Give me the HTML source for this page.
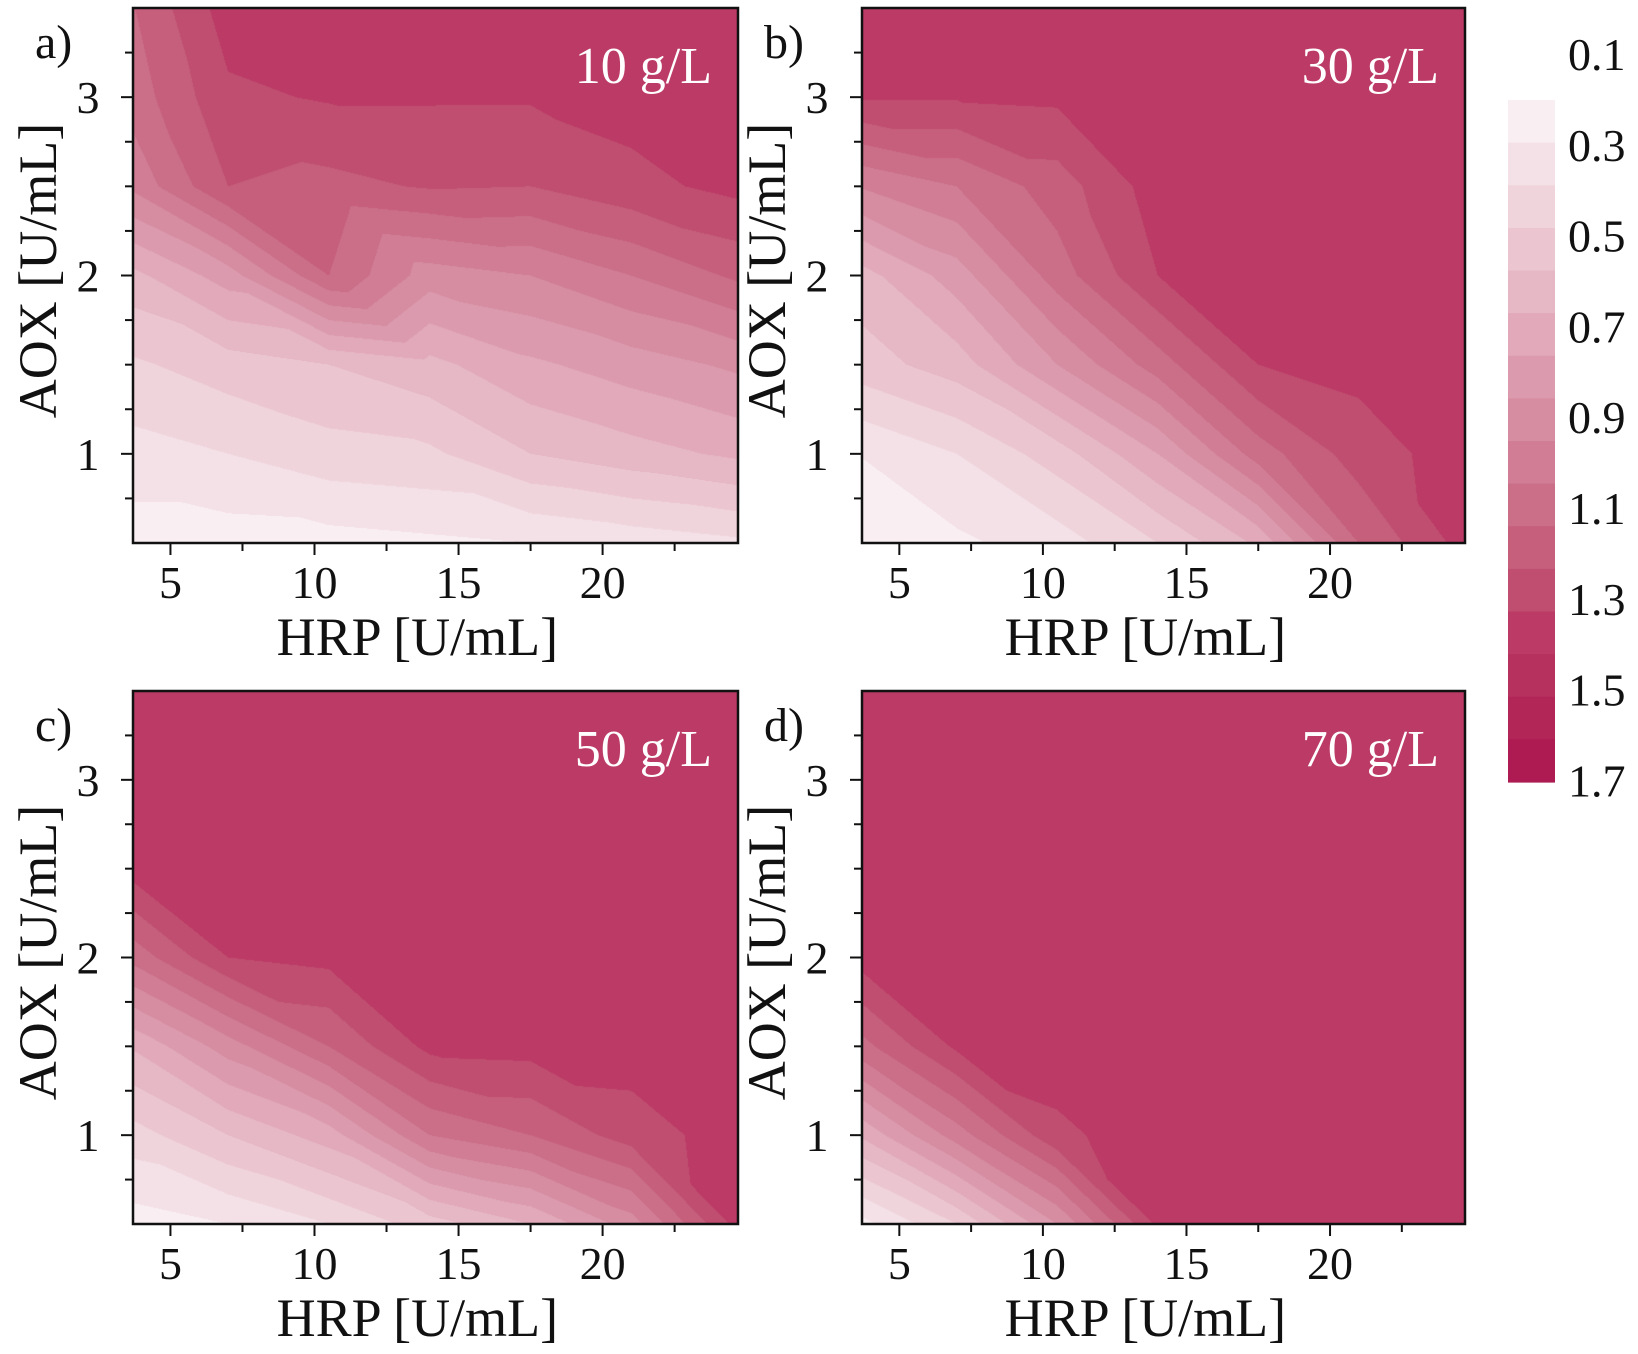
<!DOCTYPE html>
<html><head><meta charset="utf-8">
<style>
body{margin:0;background:#fff;width:1638px;height:1354px;overflow:hidden;position:relative;font-family:"Liberation Serif",serif;}
canvas{position:absolute;}
svg{position:absolute;left:0;top:0;}
svg text{font-family:"Liberation Serif","Times New Roman",serif;}
</style></head>
<body>
<canvas id="ca"></canvas>
<canvas id="cb"></canvas>
<canvas id="cc"></canvas>
<canvas id="cd"></canvas>
<svg id="ov" width="1638" height="1354"></svg>
<script>
// grid (data)
const hrpGrid = [3.5, 7, 10.5, 14, 17.5, 21, 24.7];
const aoxGrid = [0.5, 1.0, 1.5, 2.0, 2.5, 3.0, 3.5];
// values z[row=aox][col=hrp]
const zA = [
  [0.15,0.15,0.16,0.18,0.20,0.24,0.28],
  [0.26,0.30,0.36,0.38,0.50,0.56,0.62],
  [0.38,0.45,0.50,0.57,0.68,0.75,0.82],
  [0.56,0.75,1.10,0.85,0.90,1.00,1.12],
  [0.91,1.20,1.17,1.21,1.20,1.27,1.33],
  [1.03,1.28,1.31,1.31,1.31,1.34,1.36],
  [1.08,1.35,1.36,1.38,1.38,1.38,1.38]
];
const zB = [
  [0.12,0.18,0.25,0.40,0.62,1.10,1.34],
  [0.20,0.30,0.45,0.70,1.05,1.25,1.35],
  [0.45,0.55,0.80,1.05,1.30,1.33,1.35],
  [0.55,0.75,1.05,1.30,1.35,1.35,1.35],
  [0.90,1.00,1.15,1.35,1.35,1.35,1.35],
  [1.31,1.31,1.32,1.35,1.35,1.35,1.35],
  [1.35,1.35,1.35,1.35,1.35,1.35,1.35]
];
const zC = [
  [0.15,0.20,0.30,0.45,0.60,0.85,1.34],
  [0.35,0.50,0.65,1.00,1.10,1.25,1.35],
  [0.60,0.85,1.10,1.33,1.34,1.35,1.35],
  [1.02,1.30,1.33,1.35,1.35,1.35,1.35],
  [1.33,1.35,1.35,1.35,1.35,1.35,1.35],
  [1.35,1.35,1.35,1.35,1.35,1.35,1.35],
  [1.35,1.35,1.35,1.35,1.35,1.35,1.35]
];
const zD = [
  [0.15,0.40,0.80,1.32,1.35,1.35,1.35],
  [0.60,0.95,1.28,1.35,1.35,1.35,1.35],
  [1.05,1.32,1.35,1.35,1.35,1.35,1.35],
  [1.33,1.35,1.35,1.35,1.35,1.35,1.35],
  [1.35,1.35,1.35,1.35,1.35,1.35,1.35],
  [1.35,1.35,1.35,1.35,1.35,1.35,1.35],
  [1.35,1.35,1.35,1.35,1.35,1.35,1.35]
];
const levelMin = 0.1, levelStep = 0.1;
const palette = ["#f9eff2","#f4e1e7","#f0d4dc","#ebc6d1","#e6b7c5","#e1a9b9","#db9aad","#d68ca1","#d07d95","#cb6e88","#c55f7c","#c04e70","#bb3b66","#b6315d","#b12656","#ad1b52"];
const cbLabels = ["0.1","0.3","0.5","0.7","0.9","1.1","1.3","1.5","1.7"];
const xTicks = [5,10,15,20];
const xMinor = [7.5,12.5,17.5,22.5];
const yTicks = [1,2,3];
const yMinor = [0.75,1.25,1.5,1.75,2.25,2.5,2.75,3.25];

const X0=3.7, X1=24.7, Y0=0.5, Y1=3.5;
const panels = [
  {id:'ca', z:zA, L:133, T:8,   W:605, H:535, tag:'a)', conc:'10 g/L'},
  {id:'cb', z:zB, L:862, T:8,   W:603, H:535, tag:'b)', conc:'30 g/L'},
  {id:'cc', z:zC, L:133, T:691, W:605, H:533, tag:'c)', conc:'50 g/L'},
  {id:'cd', z:zD, L:862, T:691, W:603, H:533, tag:'d)', conc:'70 g/L'}
];
function hex(c){return [parseInt(c.slice(1,3),16),parseInt(c.slice(3,5),16),parseInt(c.slice(5,7),16)];}
const pal = palette.map(hex);
function locate(g,v){let i=0;while(i<g.length-2&&v>g[i+1])i++;let t=(v-g[i])/(g[i+1]-g[i]);return [i,Math.max(0,Math.min(1,t))];}
// linear interpolation on triangulated grid cells (anti-diagonal split)
function interp(z,x,y){
  const [i,tx]=locate(hrpGrid,x),[j,ty]=locate(aoxGrid,y);
  const a=z[j][i],b=z[j][i+1],c=z[j+1][i],d=z[j+1][i+1];
  if(tx+ty<=1) return a+(b-a)*tx+(c-a)*ty;
  return d+(c-d)*(1-tx)+(b-d)*(1-ty);
}
const NS='http://www.w3.org/2000/svg';
const ov=document.getElementById('ov');
function el(tag,attrs,txt){const e=document.createElementNS(NS,tag);for(const k in attrs)e.setAttribute(k,attrs[k]);if(txt!=null)e.textContent=txt;ov.appendChild(e);return e;}

panels.forEach(p=>{
  const cv=document.getElementById(p.id);
  cv.width=p.W;cv.height=p.H;cv.style.left=p.L+'px';cv.style.top=p.T+'px';
  const ctx=cv.getContext('2d');const img=ctx.createImageData(p.W,p.H);
  for(let py=0;py<p.H;py++){
    const y=Y1-(py+0.5)/p.H*(Y1-Y0);
    for(let px=0;px<p.W;px++){
      const x=X0+(px+0.5)/p.W*(X1-X0);
      const v=interp(p.z,x,y);
      let k=Math.floor((v-levelMin)/levelStep);k=Math.max(0,Math.min(15,k));
      const o=(py*p.W+px)*4;img.data[o]=pal[k][0];img.data[o+1]=pal[k][1];img.data[o+2]=pal[k][2];img.data[o+3]=255;
    }
  }
  ctx.putImageData(img,0,0);
  const sx=v=>p.L+(v-X0)/(X1-X0)*p.W, sy=v=>p.T+p.H-(v-Y0)/(Y1-Y0)*p.H;
  const B=p.T+p.H;
  let r=el('rect',{x:p.L,y:p.T,width:p.W,height:p.H,fill:'none',stroke:'#111','stroke-width':2.5});
  
  xTicks.forEach(v=>{
    let t=el('line',{x1:sx(v),x2:sx(v),y1:B,y2:B+12,stroke:'#111','stroke-width':2});
    
    let l=el('text',{x:sx(v),y:B+55,'text-anchor':'middle','font-size':46,fill:'#111'},String(v));
    
  });
  xMinor.forEach(v=>{let t=el('line',{x1:sx(v),x2:sx(v),y1:B,y2:B+8,stroke:'#111','stroke-width':2});});
  yTicks.forEach(v=>{
    let t=el('line',{x1:p.L-12,x2:p.L,y1:sy(v),y2:sy(v),stroke:'#111','stroke-width':2});
    
    let l=el('text',{x:p.L-45,y:sy(v)+16,'text-anchor':'middle','font-size':46,fill:'#111'},String(v));
    
  });
  yMinor.forEach(v=>{let t=el('line',{x1:p.L-8,x2:p.L,y1:sy(v),y2:sy(v),stroke:'#111','stroke-width':2});});
  let xt=el('text',{x:p.L+p.W*0.47,y:B+112,'text-anchor':'middle','font-size':54,fill:'#111'},'HRP [U/mL]');
  
  let cx=p.L-95, cy=p.T+p.H/2-5;
  let yt=el('text',{x:cx,y:cy,'text-anchor':'middle','font-size':54,fill:'#111',transform:`rotate(-90 ${cx} ${cy})`,dy:18},'AOX [U/mL]');
  
  let tg=el('text',{x:p.L-98,y:p.T+50,'font-size':48,fill:'#111'},p.tag);
  
  let cc=el('text',{x:p.L+p.W-26,y:p.T+75,'text-anchor':'end','font-size':52,fill:'#fff'},p.conc);
  
});
// colorbar
const cbX=1508,cbW=47,cbT=100,cbH=682;
palette.forEach((c,i)=>{
  const h=cbH/palette.length;
  let r=el('rect',{x:cbX,y:cbT+i*h,width:cbW,height:h+0.6,fill:c});
  
});
cbLabels.forEach((s,i)=>{
  let t=el('text',{x:1568,y:70+i*90.8,'font-size':46,fill:'#111'},s);
  
});
</script>
</body></html>
